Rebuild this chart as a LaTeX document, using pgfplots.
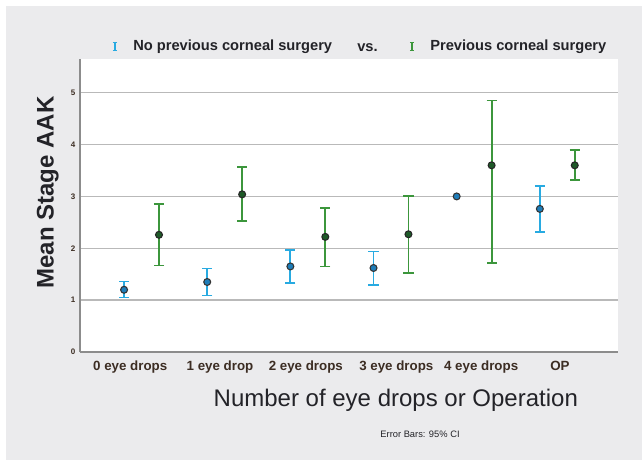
\documentclass[border=0pt]{standalone}
\usepackage{pgfplots}
\pgfplotsset{compat=1.18}
\usepackage{fontspec}
\setmainfont{Liberation Sans}
\definecolor{bg}{RGB}{235,235,237}
\definecolor{cblue}{RGB}{40,170,225}
\definecolor{cbluef}{RGB}{30,125,185}
\definecolor{cgreen}{RGB}{60,150,60}
\definecolor{cgreenf}{RGB}{30,90,40}
\definecolor{gridc}{RGB}{185,185,185}
\definecolor{axc}{RGB}{140,140,140}
\definecolor{tickc}{RGB}{60,45,35}
\definecolor{titc}{RGB}{35,35,40}
\begin{document}
\begin{tikzpicture}
\fill[white] (0,0) rectangle (481.5pt,345pt);
\fill[bg] (4.5pt,0) rectangle (481.5pt,340.5pt);
\begin{axis}[
  at={(60pt,81pt)}, anchor=south west,
  width=403.5pt, height=219.75pt, scale only axis,
  xmin=-0.74, xmax=5.73, ymin=0, ymax=5.65,
  axis background/.style={fill=white},
  axis lines=left, axis line style={draw=axc, line width=1.2pt, -},
  xtick={0,1,2,3,4,5},
  xticklabels={\hspace*{-17pt}0 eye drops,\hspace*{-7pt}1 eye drop,\hspace*{-3pt}2 eye drops,\hspace*{8pt}3 eye drops,\hspace*{10.5pt}4 eye drops,\hspace*{4pt}OP},
  ytick={0,1,2,3,4,5},
  major tick length=0pt,
  ymajorgrids, grid style={draw=gridc, line width=1.1pt},
  /pgf/number format/assume math mode=true,
  x tick label style={font=\fontsize{10}{11}\selectfont\bfseries, text=tickc, yshift=-3pt},
  y tick label style={font=\fontsize{6}{7}\selectfont\bfseries, text=tickc},
  xlabel={Number of eye drops or Operation},
  xlabel style={font=\fontsize{18}{20}\selectfont, text=titc, at={(axis description cs:0.587,-0.164)}, anchor=center},
  ylabel={Mean Stage AAK},
  ylabel style={font=\fontsize{18}{20}\selectfont\bfseries, text=titc, at={(axis description cs:-0.06,0.544)}, anchor=center, rotate=0},
  clip=false,
]
\addplot[only marks, mark=*, mark size=2.6pt,
  mark options={fill=cbluef, draw=black!80, line width=0.8pt},
  error bars/.cd, y dir=both, y explicit,
  error bar style={color=cblue, line width=1.4pt},
  error mark options={rotate=90, mark size=3.8pt, line width=1.3pt, color=cblue},
  ]
  coordinates {
  (-0.21,1.20) += (0,0.16) -= (0,0.15)
  (0.79,1.35) += (0,0.26) -= (0,0.26)
  (1.79,1.65) += (0,0.31) -= (0,0.32)
  (2.79,1.62) += (0,0.32) -= (0,0.33)
  (4.79,2.76) += (0,0.44) -= (0,0.44)
  };
\addplot[only marks, mark=*, mark size=2.6pt,
  mark options={fill=cbluef, draw=black!80, line width=0.8pt}]
  coordinates {(3.79,3.00)};
\addplot[only marks, mark=*, mark size=2.6pt,
  mark options={fill=cgreenf, draw=black!85, line width=0.8pt},
  error bars/.cd, y dir=both, y explicit,
  error bar style={color=cgreen, line width=1.4pt},
  error mark options={rotate=90, mark size=3.8pt, line width=1.3pt, color=cgreen},
  ]
  coordinates {
  (0.21,2.26) += (0,0.60) -= (0,0.59)
  (1.21,3.04) += (0,0.53) -= (0,0.51)
  (2.21,2.22) += (0,0.56) -= (0,0.57)
  (3.21,2.27) += (0,0.74) -= (0,0.74)
  (4.21,3.60) += (0,1.25) -= (0,1.88)
  (5.21,3.60) += (0,0.30) -= (0,0.28)
  };
% legend anchors
\coordinate (lgb) at (axis description cs:0.065,1.042);
\coordinate (lgg) at (axis description cs:0.617,1.042);
\node[anchor=west, inner sep=0pt, font=\fontsize{11}{12}\selectfont\bfseries, text=titc] at (axis description cs:0.0985,1.042) {No previous corneal surgery};
\node[anchor=west, inner sep=0pt, font=\fontsize{11}{12}\selectfont\bfseries, text=titc] at (axis description cs:0.515,1.038) {vs.};
\node[anchor=west, inner sep=0pt, font=\fontsize{11}{12}\selectfont\bfseries, text=titc] at (axis description cs:0.6506,1.042) {Previous corneal surgery};
\node[font=\fontsize{7}{8}\selectfont, text=titc] at (axis description cs:0.632,-0.28) {Error Bars: 95\% CI};
\end{axis}
\draw[cblue, line width=1pt] ([shift={(-1.6pt,3pt)}]lgb) -- ([shift={(1.6pt,3pt)}]lgb)
  ([shift={(0pt,3pt)}]lgb) -- ([shift={(0pt,-3pt)}]lgb)
  ([shift={(-1.6pt,-3pt)}]lgb) -- ([shift={(1.6pt,-3pt)}]lgb);
\draw[cgreen, line width=1pt] ([shift={(-1.6pt,3pt)}]lgg) -- ([shift={(1.6pt,3pt)}]lgg)
  ([shift={(0pt,3pt)}]lgg) -- ([shift={(0pt,-3pt)}]lgg)
  ([shift={(-1.6pt,-3pt)}]lgg) -- ([shift={(1.6pt,-3pt)}]lgg);
\end{tikzpicture}
\end{document}
